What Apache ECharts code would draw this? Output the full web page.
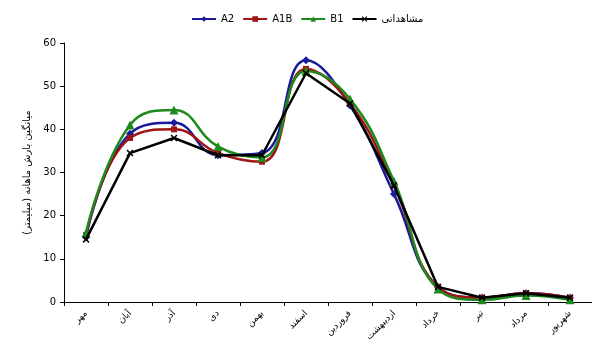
<!DOCTYPE html>
<html>
<head>
<meta charset="utf-8">
<script src="https://cdn.jsdelivr.net/npm/echarts@6/dist/echarts.min.js"></script>
<style>
  html, body { margin: 0; padding: 0; background: #fff; }
  #chart { width: 592px; height: 347px; }
</style>
</head>
<body>
<div id="chart"></div>
<script>
const months = ["مهر", "آبان", "آذر", "دی", "بهمن", "اسفند", "فروردین", "اردیبهشت", "خرداد", "تیر", "مرداد", "شهریور"];
const a2 = [15, 39, 41.5, 34, 34.5, 56, 45.5, 25, 3.5, 1, 2, 1];
const a1b = [15.5, 38, 40, 34.5, 32.5, 54, 46, 27, 3.5, 1, 2, 1];
const b1 = [16, 41, 44.5, 36, 33.5, 53.5, 47, 28, 3, 0.5, 1.5, 0.5];
const observed = [14.5, 34.5, 38, 34, 34, 53, 46, 27, 3.5, 1, 2, 1];
const yTicks = [0, 10, 20, 30, 40, 50, 60];

const font = "DejaVu Sans, sans-serif";
const crossPath = "path://M0,1.5 L1.5,0 L5,3.5 L8.5,0 L10,1.5 L6.5,5 L10,8.5 L8.5,10 L5,6.5 L1.5,10 L0,8.5 L3.5,5 Z";

function line(name, data, color, symbol, smooth, size) {
  return {
    name,
    type: "line",
    data,
    smooth: smooth ? 0.45 : false,
    symbol,
    symbolSize: size,
    showSymbol: true,
    lineStyle: { color, width: 2.5 },
    itemStyle: { color },
    z: smooth ? 2 : 3,
  };
}

const chart = echarts.init(document.getElementById("chart"));
chart.setOption({
  animation: false,
  textStyle: { fontFamily: font },
  legend: {
    top: 9,
    left: 186,
    itemWidth: 24,
    itemHeight: 7,
    itemGap: 8,
    textStyle: { fontSize: 10, color: "#000" },
    data: ["A2", "A1B", "B1", "مشاهداتی"],
  },
  grid: { left: 64, right: -6, top: 43, bottom: 45 },
  xAxis: {
    type: "category",
    data: months,
    boundaryGap: true,
    axisLine: { lineStyle: { color: "#000", width: 1 } },
    axisTick: { show: true, length: 4, lineStyle: { color: "#000" } },
    axisLabel: { rotate: 45, fontSize: 9, color: "#000", interval: 0, margin: 10 },
    splitLine: { show: false },
  },
  yAxis: {
    type: "value",
    min: yTicks[0],
    max: yTicks[yTicks.length - 1],
    interval: 10,
    name: "میانگین بارش ماهانه (میلیمتر)",
    nameLocation: "middle",
    nameGap: 32,
    nameRotate: 90,
    nameTextStyle: { fontSize: 10, color: "#000" },
    axisLine: { show: true, lineStyle: { color: "#000", width: 1 } },
    axisTick: { show: true, length: 4, lineStyle: { color: "#000" } },
    axisLabel: { fontSize: 10, color: "#000", margin: 8 },
    splitLine: { show: false },
  },
  series: [
    line("A2", a2, "#1a1a9c", "diamond", true, 8),
    line("A1B", a1b, "#a01414", "rect", true, 6),
    line("B1", b1, "#1e8a1e", "triangle", true, 9),
    line("مشاهداتی", observed, "#000000", crossPath, false, 7),
  ],
});
</script>
</body>
</html>
